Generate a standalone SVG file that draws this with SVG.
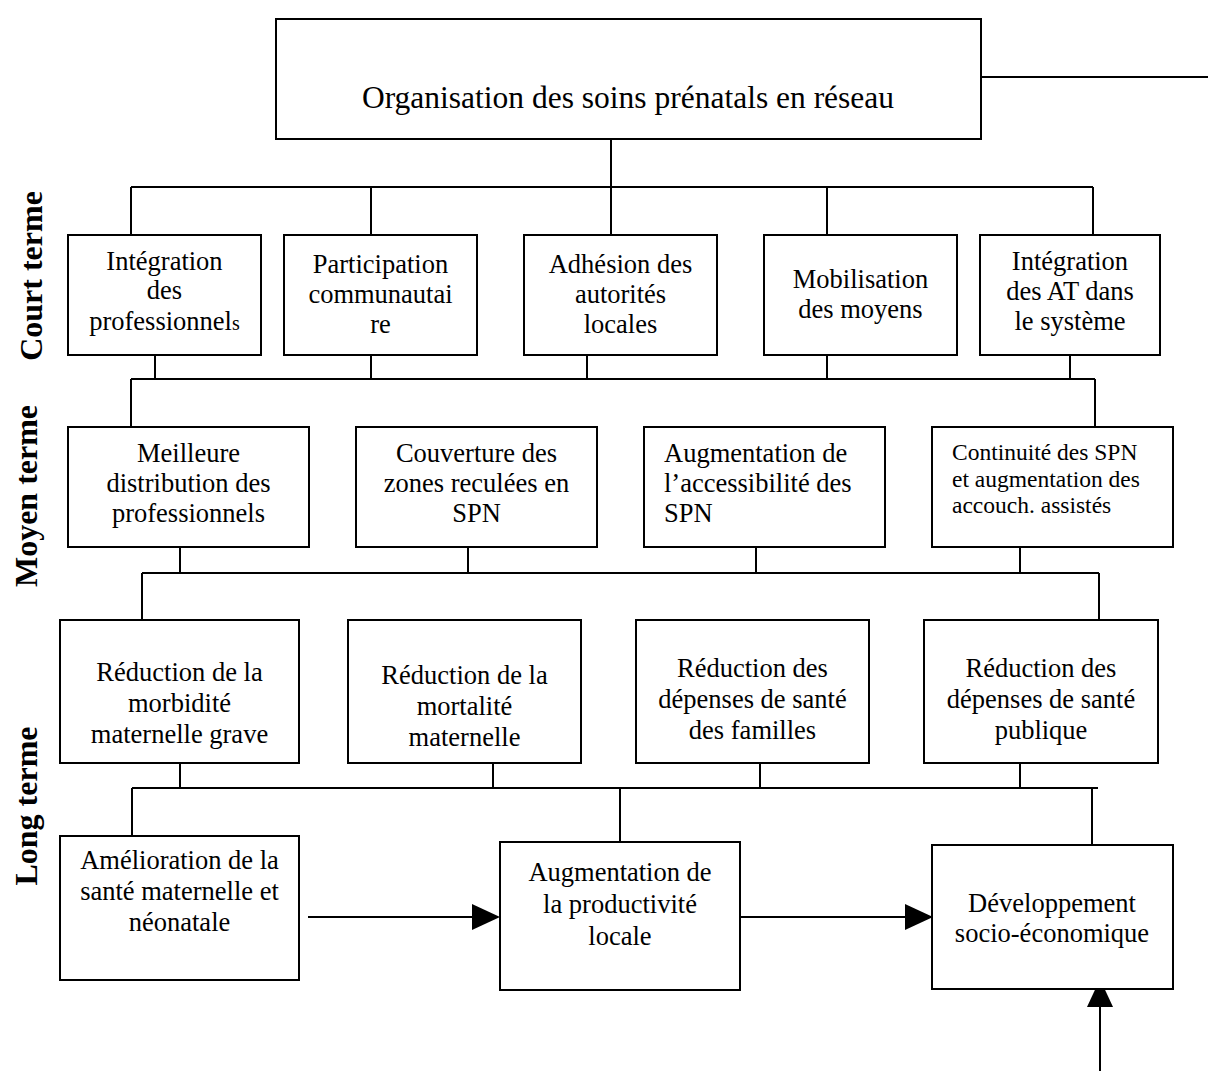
<svg xmlns="http://www.w3.org/2000/svg" width="1208" height="1071" viewBox="0 0 1208 1071">
<style>
.box{fill:#fff;stroke:#000;stroke-width:2}
.ln{fill:none;stroke:#000;stroke-width:2}
text{font-family:"Liberation Serif","Times New Roman",serif;fill:#000}
.t{font-size:26.5px;text-anchor:middle}
.tl{font-size:26.5px}
.ts{font-size:23.5px}
.title{font-size:31.5px;text-anchor:middle}
.side{font-size:32px;font-weight:bold;text-anchor:middle}
</style>
<defs>
<marker id="ah" viewBox="0 0 28 26" markerUnits="userSpaceOnUse" markerWidth="28" markerHeight="26" refX="0" refY="13" orient="auto">
<path d="M0,0 L28,13 L0,26 Z" fill="#000"/>
</marker>
</defs>
<rect width="1208" height="1071" fill="#fff"/>

<g id="connectors">
<path class="ln" d="M981,77 H1208"/>
<path class="ln" d="M611,139 V187 M131,187 H1093 M131,187 V235 M371,187 V235 M611,187 V235 M827,187 V235 M1093,187 V235"/>
<path class="ln" d="M155,355 V379 M371,355 V379 M587,355 V379 M827,355 V379 M1070,355 V379 M131,379 H1095 M131,379 V427 M1095,379 V427"/>
<path class="ln" d="M180,547 V573 M468,547 V573 M756,547 V573 M1020,547 V573 M142,573 H1099 M142,573 V620 M1099,573 V620"/>
<path class="ln" d="M180,763 V788 M493,763 V788 M760,763 V788 M1020,763 V788 M132,788 H1098 M132,788 V836 M620,788 V842 M1092,788 V845"/>
<path class="ln" d="M308,917 H472" marker-end="url(#ah)"/>
<path class="ln" d="M740,917 H905" marker-end="url(#ah)"/>
<path class="ln" d="M1100,1071 V1007" marker-end="url(#ah)"/>
</g>

<g id="side-labels">
<text class="side" transform="translate(42,276) rotate(-90)">Court terme</text>
<text class="side" transform="translate(37,496) rotate(-90)">Moyen terme</text>
<text class="side" transform="translate(37,806) rotate(-90)">Long terme</text>
</g>

<g id="n-top">
<rect class="box" x="276" y="19" width="705" height="120"/>
<text class="title" x="628" y="108">Organisation des soins prénatals en réseau</text>
</g>

<g id="n-integration-pro">
<rect class="box" x="68" y="235" width="193" height="120"/>
<text class="t" x="164.5" y="270">Intégration</text>
<text class="t" x="164.5" y="299">des</text>
<text class="t" x="164.5" y="330">professionnel<tspan font-size="20px">s</tspan></text>
</g>
<g id="n-participation">
<rect class="box" x="284" y="235" width="193" height="120"/>
<text class="t" x="380.5" y="273">Participation</text>
<text class="t" x="380.5" y="303">communautai</text>
<text class="t" x="380.5" y="333">re</text>
</g>
<g id="n-adhesion">
<rect class="box" x="524" y="235" width="193" height="120"/>
<text class="t" x="620.5" y="273">Adhésion des</text>
<text class="t" x="620.5" y="303">autorités</text>
<text class="t" x="620.5" y="333">locales</text>
</g>
<g id="n-mobilisation">
<rect class="box" x="764" y="235" width="193" height="120"/>
<text class="t" x="860.5" y="288">Mobilisation</text>
<text class="t" x="860.5" y="318">des moyens</text>
</g>
<g id="n-integration-at">
<rect class="box" x="980" y="235" width="180" height="120"/>
<text class="t" x="1070" y="270">Intégration</text>
<text class="t" x="1070" y="300">des AT dans</text>
<text class="t" x="1070" y="330">le système</text>
</g>

<g id="n-meilleure">
<rect class="box" x="68" y="427" width="241" height="120"/>
<text class="t" x="188.5" y="462">Meilleure</text>
<text class="t" x="188.5" y="492">distribution des</text>
<text class="t" x="188.5" y="522">professionnels</text>
</g>
<g id="n-couverture">
<rect class="box" x="356" y="427" width="241" height="120"/>
<text class="t" x="476.5" y="462">Couverture des</text>
<text class="t" x="476.5" y="492">zones reculées en</text>
<text class="t" x="476.5" y="522">SPN</text>
</g>
<g id="n-accessibilite">
<rect class="box" x="644" y="427" width="241" height="120"/>
<text class="tl" x="664" y="462">Augmentation de</text>
<text class="tl" x="664" y="492">l’accessibilité des</text>
<text class="tl" x="664" y="522">SPN</text>
</g>
<g id="n-continuite">
<rect class="box" x="932" y="427" width="241" height="120"/>
<text class="ts" x="952" y="460">Continuité des SPN</text>
<text class="ts" x="952" y="487">et augmentation des</text>
<text class="ts" x="952" y="513">accouch. assistés</text>
</g>

<g id="n-morbidite">
<rect class="box" x="60" y="620" width="239" height="143"/>
<text class="t" x="179.5" y="681">Réduction de la</text>
<text class="t" x="179.5" y="712">morbidité</text>
<text class="t" x="179.5" y="743">maternelle grave</text>
</g>
<g id="n-mortalite">
<rect class="box" x="348" y="620" width="233" height="143"/>
<text class="t" x="464.5" y="684">Réduction de la</text>
<text class="t" x="464.5" y="715">mortalité</text>
<text class="t" x="464.5" y="746">maternelle</text>
</g>
<g id="n-depenses-familles">
<rect class="box" x="636" y="620" width="233" height="143"/>
<text class="t" x="752.5" y="677">Réduction des</text>
<text class="t" x="752.5" y="708">dépenses de santé</text>
<text class="t" x="752.5" y="739">des familles</text>
</g>
<g id="n-depenses-publique">
<rect class="box" x="924" y="620" width="234" height="143"/>
<text class="t" x="1041" y="677">Réduction des</text>
<text class="t" x="1041" y="708">dépenses de santé</text>
<text class="t" x="1041" y="739">publique</text>
</g>

<g id="n-amelioration">
<rect class="box" x="60" y="836" width="239" height="144"/>
<text class="t" x="179.5" y="869">Amélioration de la</text>
<text class="t" x="179.5" y="900">santé maternelle et</text>
<text class="t" x="179.5" y="931">néonatale</text>
</g>
<g id="n-productivite">
<rect class="box" x="500" y="842" width="240" height="148"/>
<text class="t" x="620" y="881">Augmentation de</text>
<text class="t" x="620" y="913">la productivité</text>
<text class="t" x="620" y="945">locale</text>
</g>
<g id="n-developpement">
<rect class="box" x="932" y="845" width="241" height="144"/>
<text class="t" x="1052" y="912">Développement</text>
<text class="t" x="1052" y="942">socio-économique</text>
</g>
</svg>
